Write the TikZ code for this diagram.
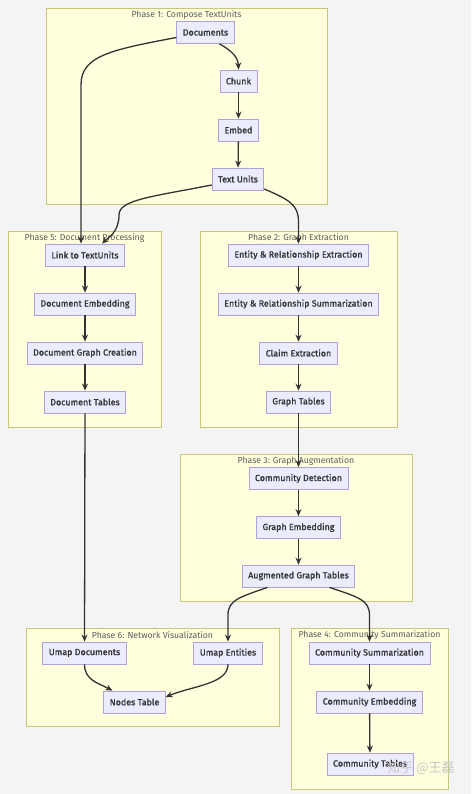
\documentclass[tikz,border=0pt]{standalone}
\usepackage{fontspec}
\setmainfont{Fira Sans}
\newfontfamily\cjkfont{Noto Sans CJK SC}
\usetikzlibrary{arrows.meta}
\definecolor{bgc}{HTML}{F4F4F4}
\definecolor{clfill}{HTML}{FFFFDE}
\definecolor{cldraw}{HTML}{C8C878}
\definecolor{ndfill}{HTML}{ECECFF}
\definecolor{nddraw}{HTML}{B0A0E0}
\definecolor{txt}{HTML}{333333}
\tikzset{
  cluster/.style={draw=cldraw, fill=clfill, line width=0.8pt},
  cltitle/.style={font=\fontsize{8.7}{10}\selectfont, text=txt!80, anchor=center, inner sep=0pt},
  box/.style={draw=nddraw, fill=ndfill, line width=0.8pt, minimum height=22pt, inner xsep=6pt, inner ysep=0pt,
    font=\fontsize{8.9}{10}\selectfont\addfontfeatures{FakeBold=1.2}, text=txt},
  arr/.style={draw=txt, line width=1.3pt, -{Stealth[length=7pt,width=6pt]}}
}
\begin{document}
\begin{tikzpicture}[x=1pt,y=1pt]
\fill[bgc] (0,0) rectangle (471,-794);
\useasboundingbox (0,0) rectangle (471,-794);
% clusters
\draw[cluster] (46,-8) rectangle (327,-204);
\node[cltitle] (t1) at (186.5,-15) {Phase 1: Compose TextUnits};
\draw[cluster] (8,-231) rectangle (161,-427);
\node[cltitle] (t5) at (84.5,-238) {Phase 5: Document Processing};
\draw[cluster] (200,-231) rectangle (397,-427);
\node[cltitle] (t2) at (298.5,-238) {Phase 2: Graph Extraction};
\draw[cluster] (180,-454) rectangle (412,-601);
\node[cltitle] (t3) at (296,-461) {Phase 3: Graph Augmentation};
\draw[cluster] (26,-628) rectangle (279,-726);
\node[cltitle] (t6) at (152.5,-635) {Phase 6: Network Visualization};
\draw[cluster] (291,-628) rectangle (448,-789);
\node[cltitle] (t4) at (369.5,-635) {Phase 4: Community Summarization};
% nodes
\node[box] (doc) at (205.5,-32.5) {Documents};
\node[box] (chunk) at (238.5,-81) {Chunk};
\node[box] (embed) at (238.5,-130) {Embed};
\node[box] (tu) at (238,-179) {Text Units};
\node[box] (link) at (85,-255) {Link to TextUnits};
\node[box] (demb) at (85,-304) {Document Embedding};
\node[box] (dgc) at (85,-353) {Document Graph Creation};
\node[box] (dtab) at (85,-402) {Document Tables};
\node[box] (ere) at (298.5,-255) {Entity \& Relationship Extraction};
\node[box] (ers) at (298.5,-304) {Entity \& Relationship Summarization};
\node[box] (claim) at (298.5,-353) {Claim Extraction};
\node[box] (gtab) at (298.5,-402) {Graph Tables};
\node[box] (cdet) at (298.5,-478.5) {Community Detection};
\node[box] (gemb) at (298.5,-527.5) {Graph Embedding};
\node[box] (agt) at (298.5,-576) {Augmented Graph Tables};
\node[box] (udoc) at (84.5,-653) {Umap Documents};
\node[box] (uent) at (228,-653) {Umap Entities};
\node[box] (ntab) at (134.5,-702) {Nodes Table};
\node[box] (csum) at (369.5,-653) {Community Summarization};
\node[box] (cemb) at (369.5,-702) {Community Embedding};
\node[box] (ctab) at (370,-764) {Community Tables};
% edges
\draw[arr] ([xshift=14pt]doc.south) .. controls (232,-51) and (238,-57) .. (chunk.north);
\draw[arr] (chunk) -- (embed);
\draw[arr] (embed) -- (tu);
\draw[arr] ([yshift=-5pt]doc.west) .. controls (110,-50) and (81,-56) .. (81,-85) -- ([xshift=-4pt]link.north);
\draw[arr] ([yshift=-6pt]tu.west) .. controls (150,-197) and (119,-200) .. (119,-215) .. controls (119,-232) and (108,-238) .. ([xshift=17pt]link.north);
\draw[arr] ([yshift=-10pt]tu.east) .. controls (290,-200) and (298.5,-205) .. (298.5,-222) -- (ere.north);
\draw[arr] (link) -- (demb);
\draw[arr] (demb) -- (dgc);
\draw[arr] (dgc) -- (dtab);
\draw[arr] (ere) -- (ers);
\draw[arr] (ers) -- (claim);
\draw[arr] (claim) -- (gtab);
\draw[arr] (gtab) -- (cdet);
\draw[arr] (cdet) -- (gemb);
\draw[arr] (gemb) -- (agt);
\draw[arr] (dtab) -- (udoc);
\draw[arr] ([xshift=-31pt]agt.south) .. controls (240,-597) and (228,-600) .. (228,-615) -- (uent.north);
\draw[arr] ([xshift=31pt]agt.south) .. controls (358,-597) and (369.5,-600) .. (369.5,-615) -- (csum.north);
\draw[arr] (udoc.south) .. controls (84.5,-680) and (98,-683) .. ([xshift=-22pt]ntab.north);
\draw[arr] (uent.south) .. controls (228,-684) and (192,-686) .. ([yshift=5pt]ntab.east);
\draw[arr] (csum) -- (cemb);
\draw[arr] (cemb) -- (ctab);
% watermark
\node[font=\cjkfont\fontsize{13}{14}\selectfont, text=black!22, anchor=center] (wm) at (421,-768) {知乎 @王磊};
\end{tikzpicture}
\end{document}
